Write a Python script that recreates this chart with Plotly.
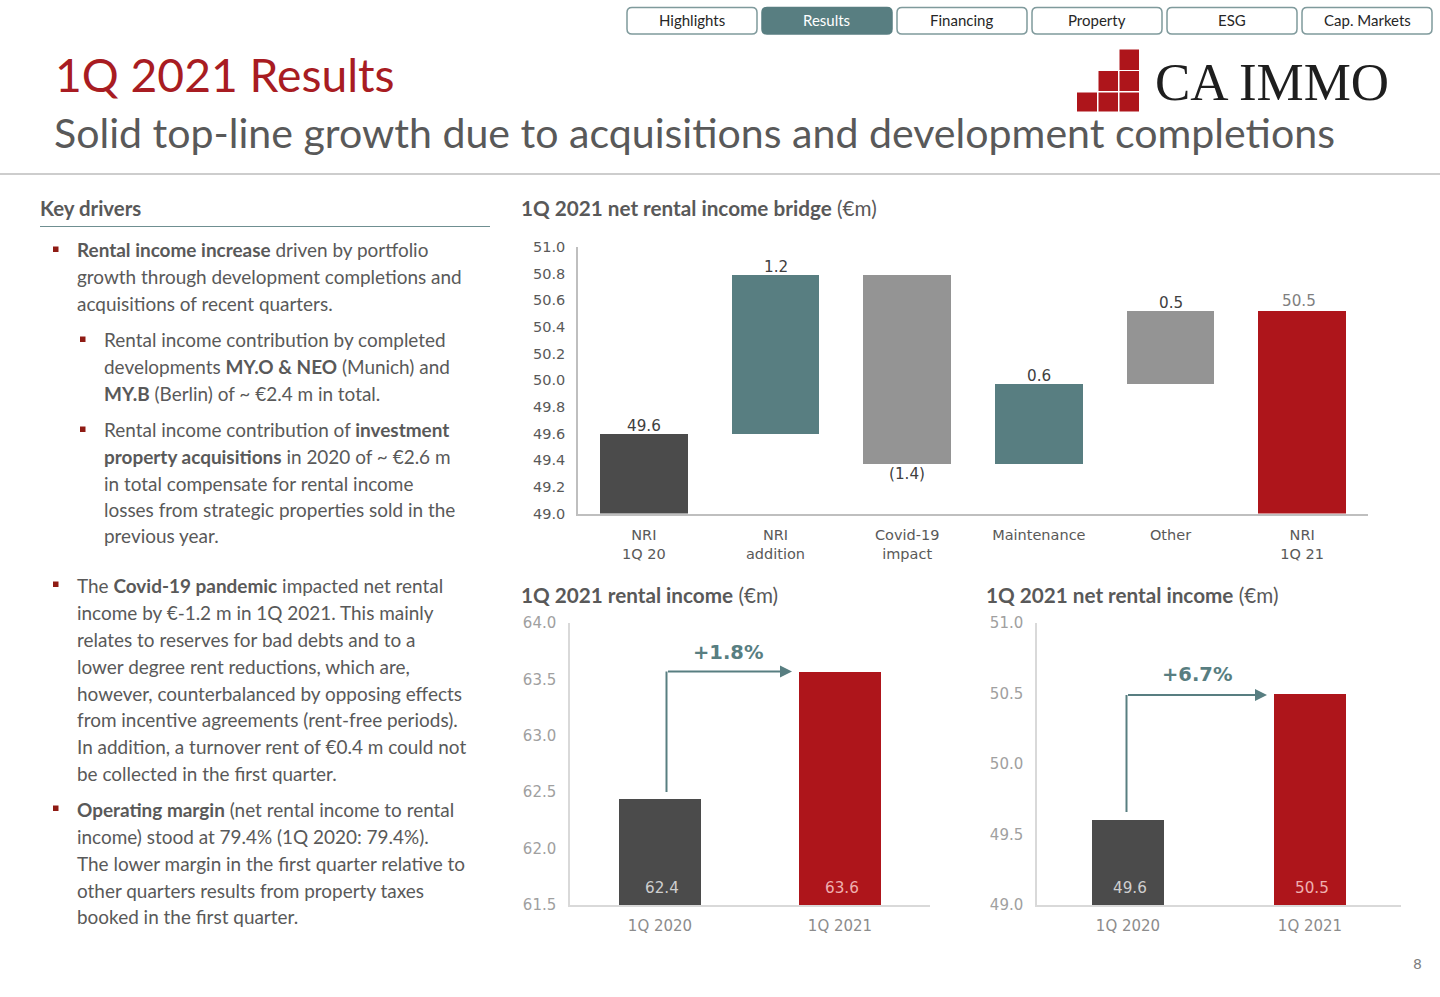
import plotly.graph_objects as go

W, H = 1440, 997
TEXT_FONT = "Lato"
AXIS_FONT = "DejaVu Sans"
GREY = "#595959"
TEAL = "#587e81"
RED = "#ae151b"
DARK = "#4b4b4b"
MID = "#949494"

# ---------- data ----------
bridge_categories = ["NRI<br>1Q 20", "NRI<br>addition", "Covid-19<br>impact", "Maintenance", "Other", "NRI<br>1Q 21"]
bridge_bases = [49.0, 49.6, 49.37, 49.37, 49.97, 49.0]
bridge_tops = [49.6, 50.79, 50.79, 49.97, 50.52, 50.52]
bridge_labels = ["49.6", "1.2", "(1.4)", "0.6", "0.5", "50.5"]
bridge_colors = [DARK, TEAL, MID, TEAL, MID, RED]
bridge_label_colors = ["#404040", "#404040", "#404040", "#404040", "#404040", "#7f7f7f"]
bridge_ticks = [49.0, 49.2, 49.4, 49.6, 49.8, 50.0, 50.2, 50.4, 50.6, 50.8, 51.0]

quarters = ["1Q 2020", "1Q 2021"]
rental_values = [62.44, 63.57]
rental_labels = ["62.4", "63.6"]
rental_ticks = [61.5, 62.0, 62.5, 63.0, 63.5, 64.0]
net_values = [49.6, 50.5]
net_labels = ["49.6", "50.5"]
net_ticks = [49.0, 49.5, 50.0, 50.5, 51.0]

nav_items = ["Highlights", "Results", "Financing", "Property", "ESG", "Cap. Markets"]

body_lines = [
    (77, 250, "<b>Rental income increase</b> driven by portfolio"),
    (77, 277, "growth through development completions and"),
    (77, 304, "acquisitions of recent quarters."),
    (104, 340, "Rental income contribution by completed"),
    (104, 367, "developments <b>MY.O &amp; NEO</b> (Munich) and"),
    (104, 394, "<b>MY.B</b> (Berlin) of ~ €2.4 m in total."),
    (104, 430, "Rental income contribution of <b>investment</b>"),
    (104, 457, "<b>property acquisitions</b> in 2020 of ~ €2.6 m"),
    (104, 484, "in total compensate for rental income"),
    (104, 509, "losses from strategic properties sold in the"),
    (104, 535, "previous year."),
    (77, 585, "The <b>Covid-19 pandemic</b> impacted net rental"),
    (77, 612, "income by €-1.2 m in 1Q 2021. This mainly"),
    (77, 639, "relates to reserves for bad debts and to a"),
    (77, 666, "lower degree rent reductions, which are,"),
    (77, 693, "however, counterbalanced by opposing effects"),
    (77, 719, "from incentive agreements (rent-free periods)."),
    (77, 746, "In addition, a turnover rent of €0.4 m could not"),
    (77, 773, "be collected in the first quarter."),
    (77, 809, "<b>Operating margin</b> (net rental income to rental"),
    (77, 836, "income) stood at 79.4% (1Q 2020: 79.4%)."),
    (77, 863, "The lower margin in the first quarter relative to"),
    (77, 890, "other quarters results from property taxes"),
    (77, 916, "booked in the first quarter."),
]
bullets = [(53, 249), (80, 339), (80, 429), (53, 584), (53, 808)]


# ---------- helpers ----------
def px(x):
    return x / W


def py(y):
    return 1 - y / H


fig = go.Figure()
annotations, shapes = [], []


def text(x, y, s, size, color=GREY, font=TEXT_FONT, anchor="left"):
    dx = -2 if anchor == "left" else 0
    annotations.append(dict(x=px(x + dx), y=py(y), xref="paper", yref="paper", text=s, showarrow=False,
                            xanchor=anchor, yanchor="middle", align=anchor,
                            font=dict(family=font, size=size, color=color)))


def data_label(xref, yref, x, y, s, color, shift, xshift=0):
    annotations.append(dict(x=x, y=y, xref=xref, yref=yref, text=s, showarrow=False, xanchor="center",
                            yanchor="middle", yshift=shift, xshift=xshift,
                            font=dict(family=AXIS_FONT, size=15.2, color=color)))


def rect(x0, y0, x1, y1, fill):
    shapes.append(dict(type="rect", xref="paper", yref="paper", x0=px(x0), x1=px(x1), y0=py(y0), y1=py(y1),
                       fillcolor=fill, line=dict(width=0)))


def hline(x0, x1, y, color, width=1):
    shapes.append(dict(type="line", xref="paper", yref="paper", x0=px(x0), x1=px(x1), y0=py(y), y1=py(y),
                       line=dict(color=color, width=width)))


def rounded(x0, y0, x1, y1, r, fill, line):
    X0, X1 = px(x0), px(x1)
    Y0, Y1 = py(y0), py(y1)
    rx, ry = r / W, r / H
    path = (f"M {X0+rx} {Y0} L {X1-rx} {Y0} Q {X1} {Y0} {X1} {Y0-ry} L {X1} {Y1+ry} Q {X1} {Y1} {X1-rx} {Y1} "
            f"L {X0+rx} {Y1} Q {X0} {Y1} {X0} {Y1+ry} L {X0} {Y0-ry} Q {X0} {Y0} {X0+rx} {Y0} Z")
    shapes.append(dict(type="path", xref="paper", yref="paper", path=path, fillcolor=fill,
                       line=dict(color=line, width=1.5)))


def axes(n, x0, x1, y_top, y_bot, yrange, ticks, xcolor, ycolor, line_color, ylen, xlen, size):
    s = "" if n == 1 else str(n)
    fig.update_layout(**{
        f"xaxis{s}": dict(domain=[px(x0), px(x1)], anchor=f"y{s}", type="category", showgrid=False, zeroline=False,
                          showline=True, linecolor=line_color, linewidth=1.5, ticks="outside", ticklen=xlen,
                          tickcolor="rgba(0,0,0,0)", tickfont=dict(family=AXIS_FONT, size=size, color=xcolor),
                          fixedrange=True, automargin=False),
        f"yaxis{s}": dict(domain=[py(y_bot), py(y_top)], anchor=f"x{s}", range=yrange, tickvals=ticks,
                          tickformat=".1f", showgrid=False, zeroline=False, showline=True, linecolor=line_color,
                          linewidth=1.5, ticks="outside", ticklen=ylen, tickcolor="rgba(0,0,0,0)",
                          tickfont=dict(family=AXIS_FONT, size=size, color=ycolor), fixedrange=True,
                          automargin=False),
    })


# ---------- header ----------
nav_x = [627, 762, 897, 1032, 1167, 1302]
for x0, name in zip(nav_x, nav_items):
    active = name == "Results"
    rounded(x0, 7.5, x0 + 130, 34, 5, TEAL if active else "white", TEAL if active else "#7f9a9c")
    text(x0 + 65, 20, name, 15, "white" if active else "#262626", anchor="center")

for x0, x1 in [(1119.5, 1139)]:
    rect(x0, 49.5, x1, 70, RED)
for x0, x1 in [(1098.5, 1118), (1119.5, 1139)]:
    rect(x0, 71, x1, 91, RED)
for x0, x1 in [(1077, 1097), (1098.5, 1118), (1119.5, 1139)]:
    rect(x0, 92.5, x1, 111.5, RED)
text(1155, 82, "CA IMMO", 53, "#1e1e1e", "Liberation Serif")

text(55, 74, "1Q 2021 Results", 46.2, "#a81c22")
text(54, 132, "Solid top-line growth due to acquisitions and development completions", 41.1, GREY)
hline(0, 1440, 174, "#bdbdbd", 1.5)

# ---------- left column ----------
text(40, 208, "<b>Key drivers</b>", 20.4)
hline(40, 490, 226.5, "#6f8f91", 1)
for x, y, s in body_lines:
    text(x, y, s, 18.95)
for x, y in bullets:
    rect(x, y - 2.5, x + 5.5, y + 3, "#8f1b14")

# ---------- chart titles ----------
text(521, 208, "<b>1Q 2021 net rental income bridge</b> (€m)", 20.7)
text(521, 595, "<b>1Q 2021 rental income</b> (€m)", 20.7)
text(986, 595, "<b>1Q 2021 net rental income</b> (€m)", 20.7)

# ---------- bridge ----------
bridge_heights = [round(t - b, 2) for t, b in zip(bridge_tops, bridge_bases)]
fig.add_trace(go.Bar(x=bridge_categories, y=bridge_heights, base=bridge_bases, marker_color=bridge_colors,
                     marker_line_width=0, width=0.667, xaxis="x", yaxis="y", hoverinfo="skip", showlegend=False))
for cat, lab, top, bot, col in zip(bridge_categories, bridge_labels, bridge_tops, bridge_bases, bridge_label_colors):
    if lab.startswith("("):
        data_label("x", "y", cat, bot, lab, col, -10)
    elif col == "#7f7f7f":
        data_label("x", "y", cat, top, lab, col, 10, -3)
    else:
        data_label("x", "y", cat, top, lab, col, 8)
axes(1, 578, 1368, 247, 513.5, [49.0, 51.0], bridge_ticks, GREY, GREY, "#bfbfbf", 8, 7, 14.5)
fig.update_layout(xaxis=dict(categoryorder="array", categoryarray=bridge_categories))

# ---------- rental income / net rental income ----------
for n, vals, labs, rng, width in [
    (2, rental_values, rental_labels, [61.5, 64.0], 0.46),
    (3, net_values, net_labels, [49.0, 51.0], 0.40),
]:
    fig.add_trace(go.Bar(x=quarters, y=[v - rng[0] for v in vals], base=rng[0], marker_color=[DARK, RED],
                         marker_line_width=0, width=width, xaxis=f"x{n}", yaxis=f"y{n}", hoverinfo="skip",
                         showlegend=False))
    for q, lab, col in zip(quarters, labs, ["#cfcfcf", "#eeb0b0"]):
        data_label(f"x{n}", f"y{n}", q, rng[0], lab, col, 17, 2)
axes(2, 570, 930, 623, 905, [61.5, 64.0], rental_ticks, "#8c8c8c", "#a0a0a0", "#d9d9d9", 9, 6, 15)
axes(3, 1037, 1401, 623, 905, [49.0, 51.0], net_ticks, "#8c8c8c", "#a0a0a0", "#d9d9d9", 9, 6, 15)


# ---------- growth arrows ----------
def growth(x0, y_bot, y_top, x1, label, lx, ly):
    shapes.append(dict(type="line", xref="paper", yref="paper", x0=px(x0), x1=px(x0), y0=py(y_bot), y1=py(y_top),
                       line=dict(color=TEAL, width=2)))
    annotations.append(dict(x=px(x1), y=py(y_top), xref="paper", yref="paper", ax=x0 - x1, ay=0, axref="pixel",
                            ayref="pixel", text="", showarrow=True, arrowhead=2, arrowsize=1.2, arrowwidth=2,
                            arrowcolor=TEAL, standoff=0))
    text(lx, ly, "<b>" + label + "</b>", 19.5, TEAL, AXIS_FONT, "center")


growth(666.5, 792, 671.5, 792, "+1.8%", 728, 652)
growth(1126.5, 812, 695, 1267, "+6.7%", 1197, 674)

# page number
text(1417, 964, "8", 14, "#7f7f7f", AXIS_FONT, "center")

fig.update_layout(width=W, height=H, margin=dict(l=0, r=0, t=0, b=0), paper_bgcolor="white", plot_bgcolor="white",
                  annotations=annotations, shapes=shapes, showlegend=False, bargap=0)
fig.write_html("out.html", config={"displayModeBar": False},
               post_script="document.body.style.margin='0';document.body.style.overflow='hidden';")
